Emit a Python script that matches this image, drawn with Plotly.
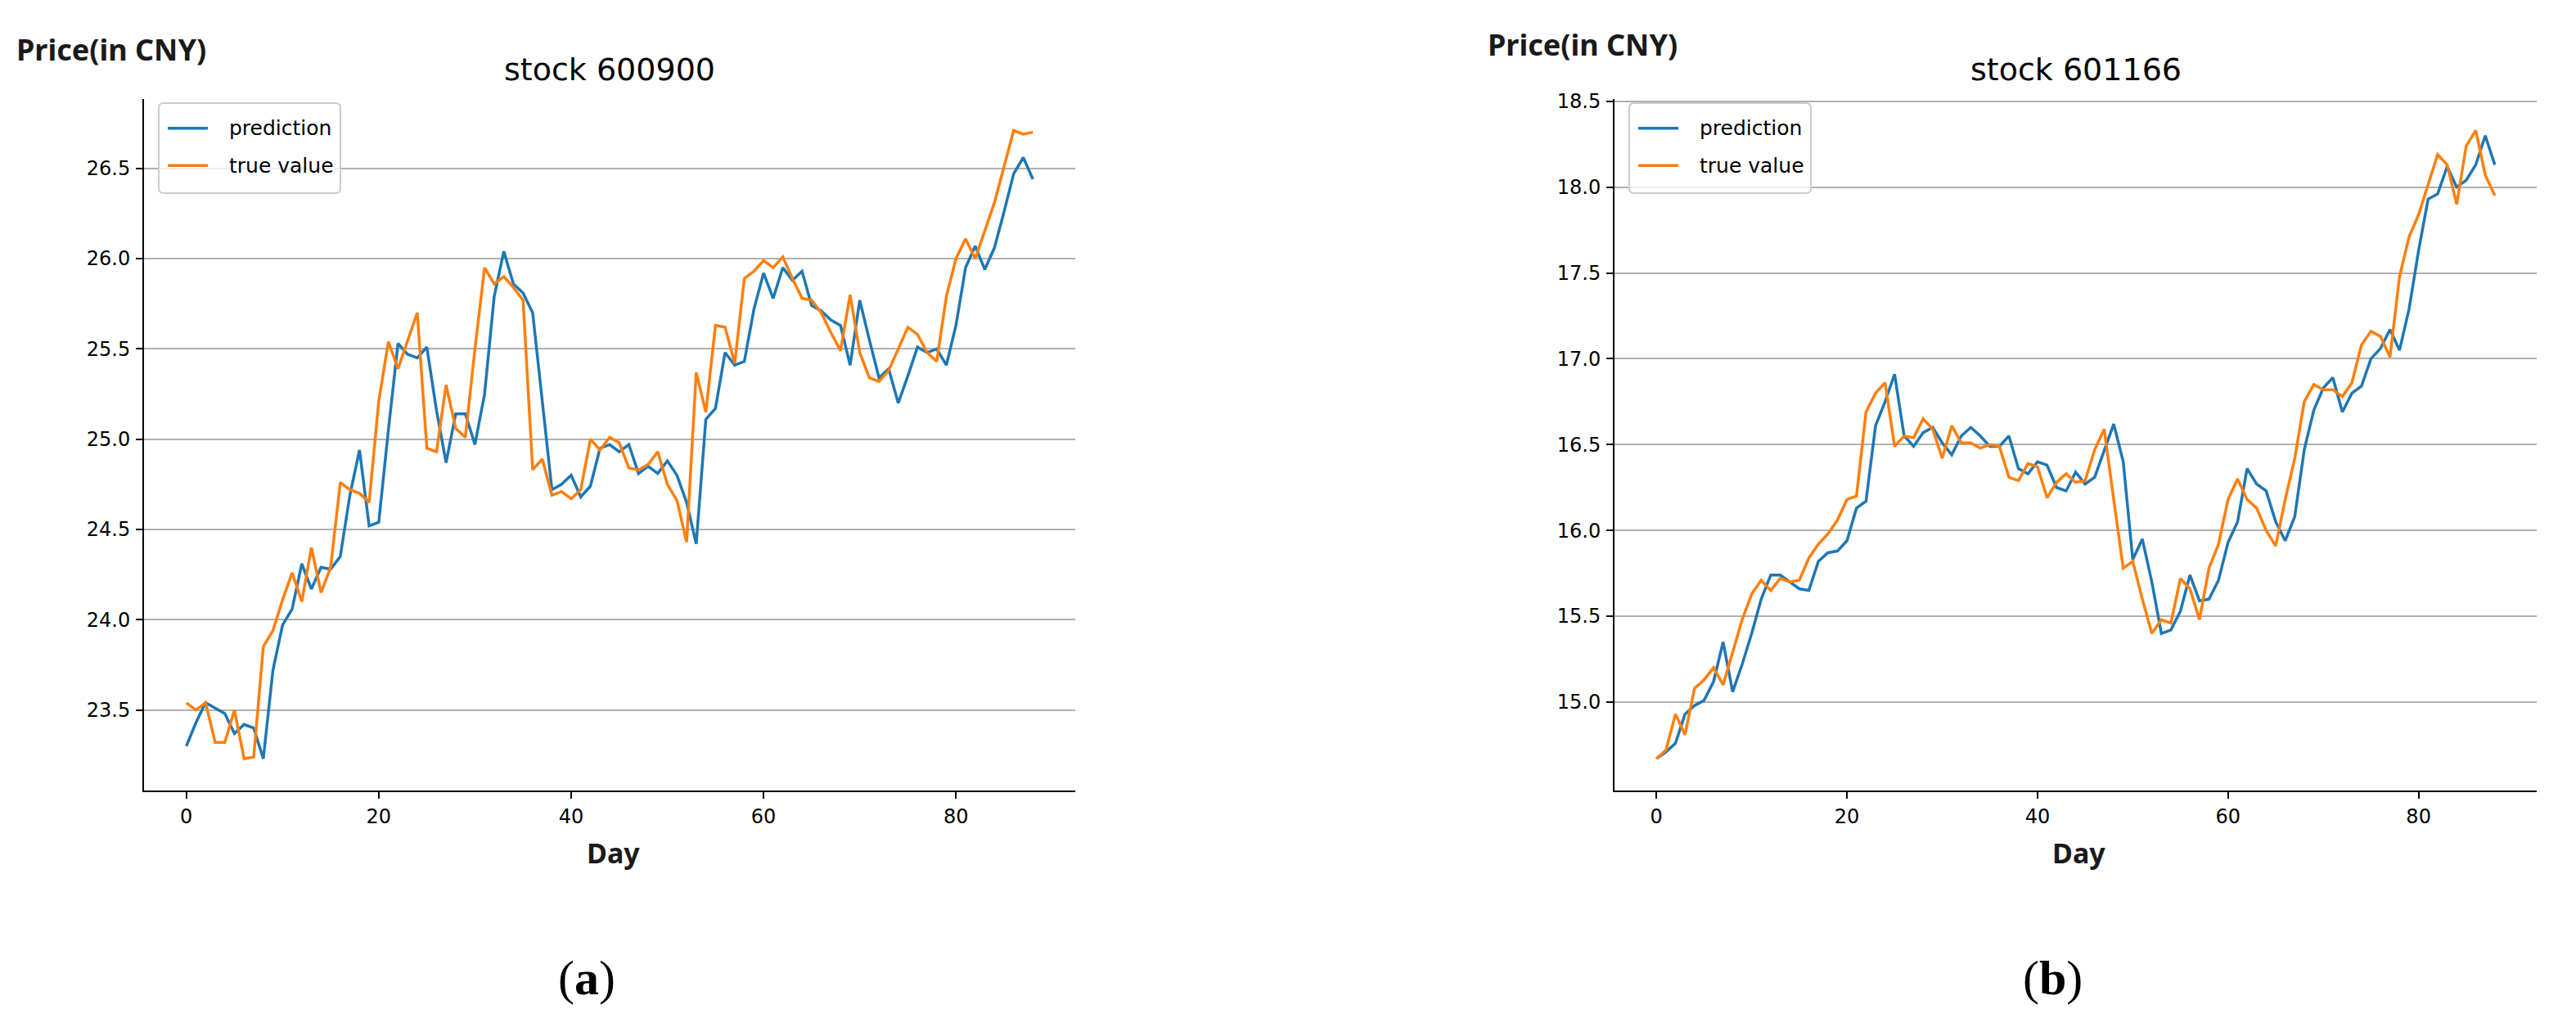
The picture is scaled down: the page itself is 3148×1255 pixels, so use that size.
import plotly.graph_objects as go

days = list(range(89))

pred_600900 = [23.30, 23.43, 23.54, 23.51, 23.48, 23.37, 23.42, 23.40, 23.23, 23.72,
               23.97, 24.06, 24.31, 24.17, 24.29, 24.28, 24.35, 24.69, 24.94, 24.52,
               24.54, 25.05, 25.53, 25.47, 25.45, 25.51, 25.16, 24.87, 25.14, 25.14,
               24.97, 25.25, 25.79, 26.04, 25.86, 25.81, 25.70, 25.21, 24.72, 24.75,
               24.80, 24.68, 24.74, 24.95, 24.97, 24.93, 24.97, 24.81, 24.85, 24.81,
               24.88, 24.80, 24.65, 24.42, 25.11, 25.17, 25.48, 25.41, 25.43, 25.72,
               25.92, 25.78, 25.95, 25.88, 25.93, 25.74, 25.71, 25.66, 25.63, 25.41,
               25.77, 25.55, 25.34, 25.39, 25.20, 25.35, 25.51, 25.48, 25.50, 25.41,
               25.63, 25.95, 26.07, 25.94, 26.06, 26.26, 26.47, 26.56, 26.44]

true_600900 = [23.54, 23.50, 23.54, 23.32, 23.32, 23.50, 23.23, 23.24, 23.85, 23.94,
               24.11, 24.26, 24.10, 24.40, 24.15, 24.29, 24.76, 24.72, 24.70, 24.65,
               25.21, 25.54, 25.39, 25.54, 25.70, 24.95, 24.93, 25.30, 25.06, 25.01,
               25.50, 25.95, 25.86, 25.90, 25.84, 25.77, 24.83, 24.89, 24.69, 24.71,
               24.67, 24.72, 25.00, 24.94, 25.01, 24.98, 24.84, 24.83, 24.86, 24.93,
               24.75, 24.66, 24.43, 25.37, 25.15, 25.63, 25.62, 25.42, 25.89, 25.93,
               25.99, 25.95, 26.01, 25.89, 25.78, 25.77, 25.70, 25.59, 25.49, 25.80,
               25.48, 25.34, 25.32, 25.38, 25.50, 25.62, 25.58, 25.48, 25.43, 25.79,
               26.00, 26.11, 26.00, 26.15, 26.31, 26.51, 26.71, 26.69, 26.70]

pred_601166 = [14.67, 14.71, 14.76, 14.93, 14.98, 15.01, 15.12, 15.35, 15.06, 15.22,
               15.40, 15.60, 15.74, 15.74, 15.70, 15.66, 15.65, 15.82, 15.87, 15.88,
               15.94, 16.13, 16.17, 16.61, 16.75, 16.91, 16.55, 16.49, 16.57, 16.60,
               16.51, 16.44, 16.55, 16.60, 16.55, 16.49, 16.49, 16.55, 16.36, 16.33,
               16.40, 16.38, 16.25, 16.23, 16.34, 16.27, 16.31, 16.47, 16.62, 16.40,
               15.83, 15.95, 15.70, 15.40, 15.42, 15.53, 15.74, 15.59, 15.60, 15.71,
               15.93, 16.05, 16.36, 16.27, 16.23, 16.05, 15.94, 16.08, 16.47, 16.70,
               16.83, 16.89, 16.69, 16.80, 16.84, 17.00, 17.06, 17.17, 17.05, 17.29,
               17.63, 17.93, 17.96, 18.12, 18.00, 18.04, 18.13, 18.30, 18.13]

true_601166 = [14.67, 14.72, 14.93, 14.81, 15.08, 15.13, 15.20, 15.10, 15.29, 15.48,
               15.63, 15.71, 15.65, 15.72, 15.70, 15.71, 15.84, 15.92, 15.98, 16.06,
               16.18, 16.20, 16.69, 16.80, 16.86, 16.49, 16.55, 16.54, 16.65, 16.59,
               16.42, 16.61, 16.51, 16.51, 16.48, 16.50, 16.49, 16.31, 16.29, 16.39,
               16.37, 16.19, 16.28, 16.33, 16.28, 16.29, 16.47, 16.59, 16.18, 15.78,
               15.82, 15.60, 15.40, 15.48, 15.46, 15.72, 15.66, 15.48, 15.78, 15.92,
               16.18, 16.30, 16.18, 16.13, 16.00, 15.91, 16.18, 16.42, 16.75, 16.85,
               16.82, 16.82, 16.78, 16.86, 17.08, 17.16, 17.13, 17.01, 17.48, 17.71,
               17.84, 18.01, 18.19, 18.13, 17.90, 18.24, 18.33, 18.07, 17.95]

titles = ["stock 600900", "stock 601166"]
series_names = ["prediction", "true value"]
panel_letters = ["a", "b"]
x_ticks = [0, 20, 40, 60, 80]
y_ticks_a = [23.5, 24.0, 24.5, 25.0, 25.5, 26.0, 26.5]
y_ticks_b = [15.0, 15.5, 16.0, 16.5, 17.0, 17.5, 18.0, 18.5]

BLUE = "#1f77b4"
ORANGE = "#ff7f0e"
FONT = "DejaVu Sans"
LABEL_FONT = "Noto Sans"
W, H = 3148, 1255


def px(x):
    return x / W


def py(y):
    return 1 - y / H


def auto_range(*series):
    lo = min(min(s) for s in series)
    hi = max(max(s) for s in series)
    pad = (hi - lo) * 0.05
    return [lo - pad, hi + pad]


xr = [-0.05 * 88, 88 * 1.05]

# axes boxes in pixels (left, right)
ax_a = (176, 1314)
ax_b = (1973, 3100)
ax_top, ax_bot = 111, 963

fig = go.Figure()
panels = [
    (pred_600900, true_600900, "x", "y"),
    (pred_601166, true_601166, "x2", "y2"),
]
for pred, true, xa, ya in panels:
    fig.add_trace(go.Scatter(x=days, y=pred, mode="lines", name=series_names[0],
                             line=dict(color=BLUE, width=3.5), xaxis=xa, yaxis=ya, showlegend=False))
    fig.add_trace(go.Scatter(x=days, y=true, mode="lines", name=series_names[1],
                             line=dict(color=ORANGE, width=3.5), xaxis=xa, yaxis=ya, showlegend=False))

dom_a = [px(ax_a[0]), px(ax_a[1])]
dom_b = [px(ax_b[0]), px(ax_b[1])]
dom_y = [py(ax_bot), py(ax_top)]

axis_common = dict(
    showline=True, linecolor="black", linewidth=2,
    ticks="outside", ticklen=8, tickwidth=2, tickcolor="black",
    tickfont=dict(family=FONT, size=24, color="black"),
    ticklabelstandoff=2,
    zeroline=False, mirror=False,
)

fig.update_layout(
    width=W, height=H,
    margin=dict(l=0, r=0, t=0, b=0),
    paper_bgcolor="white", plot_bgcolor="white",
    showlegend=False,
    xaxis=dict(domain=dom_a, anchor="y", range=xr, tickvals=x_ticks, showgrid=False, **axis_common),
    yaxis=dict(domain=dom_y, anchor="x", range=auto_range(pred_600900, true_600900),
               tickvals=y_ticks_a, ticktext=[f"{v:.1f}" for v in y_ticks_a],
               showgrid=True, gridcolor="#b0b0b0", gridwidth=2, **axis_common),
    xaxis2=dict(domain=dom_b, anchor="y2", range=xr, tickvals=x_ticks, showgrid=False, **axis_common),
    yaxis2=dict(domain=dom_y, anchor="x2", range=auto_range(pred_601166, true_601166),
                tickvals=y_ticks_b, ticktext=[f"{v:.1f}" for v in y_ticks_b],
                showgrid=True, gridcolor="#b0b0b0", gridwidth=2, **axis_common),
)

anns = []
shapes = []
for (axl, axr_), title, letter, lab_x, lab_y in [(ax_a, titles[0], panel_letters[0], 136, 50),
                                                  (ax_b, titles[1], panel_letters[1], 1934, 44)]:
    cx = (axl + axr_) / 2
    anns.append(dict(text=title, x=px(cx), y=py(75), xref="paper", yref="paper",
                     showarrow=False, xanchor="center", yanchor="middle",
                     font=dict(family=FONT, size=38, color="black")))
    anns.append(dict(text="<b>Price(in CNY)</b>", x=px(lab_x), y=py(lab_y), xref="paper", yref="paper",
                     showarrow=False, xanchor="center", yanchor="middle",
                     font=dict(family=LABEL_FONT, size=36, color="#1a1a1a")))
    anns.append(dict(text="<b>Day</b>", x=px(cx + 4), y=py(1040), xref="paper", yref="paper",
                     showarrow=False, xanchor="center", yanchor="middle",
                     font=dict(family=LABEL_FONT, size=34, color="#1a1a1a")))
    anns.append(dict(text=f"(<b>{letter}</b>)", x=px(cx - 28), y=py(1194), xref="paper", yref="paper",
                     showarrow=False, xanchor="center", yanchor="middle",
                     font=dict(family="Liberation Serif", size=60, color="black")))

    # legend box (matplotlib style, upper left)
    bx0, bx1 = axl + 18, axl + 240
    by0, by1 = ax_top + 5, ax_top + 116
    r = 6
    path = (f"M {px(bx0 + r)},{py(by0)} L {px(bx1 - r)},{py(by0)} "
            f"Q {px(bx1)},{py(by0)} {px(bx1)},{py(by0 + r)} "
            f"L {px(bx1)},{py(by1 - r)} Q {px(bx1)},{py(by1)} {px(bx1 - r)},{py(by1)} "
            f"L {px(bx0 + r)},{py(by1)} Q {px(bx0)},{py(by1)} {px(bx0)},{py(by1 - r)} "
            f"L {px(bx0)},{py(by0 + r)} Q {px(bx0)},{py(by0)} {px(bx0 + r)},{py(by0)} Z")
    shapes.append(dict(type="path", path=path, xref="paper", yref="paper", layer="above",
                       fillcolor="rgba(255,255,255,0.8)", line=dict(color="#cccccc", width=2)))
    for i, (name, col) in enumerate(zip(series_names, [BLUE, ORANGE])):
        yy = ax_top + 36 + i * 46
        shapes.append(dict(type="line", xref="paper", yref="paper", layer="above",
                           x0=px(bx0 + 11), x1=px(bx0 + 60), y0=py(yy), y1=py(yy),
                           line=dict(color=col, width=3.5)))
        anns.append(dict(text=name, x=px(bx0 + 84), y=py(yy), xref="paper", yref="paper",
                         showarrow=False, xanchor="left", yanchor="middle",
                         font=dict(family=FONT, size=25, color="black")))

fig.update_layout(annotations=anns, shapes=shapes)

fig.write_html("out.html", config={"displayModeBar": False},
               post_script="document.body.style.margin='0';document.body.style.overflow='hidden';")
